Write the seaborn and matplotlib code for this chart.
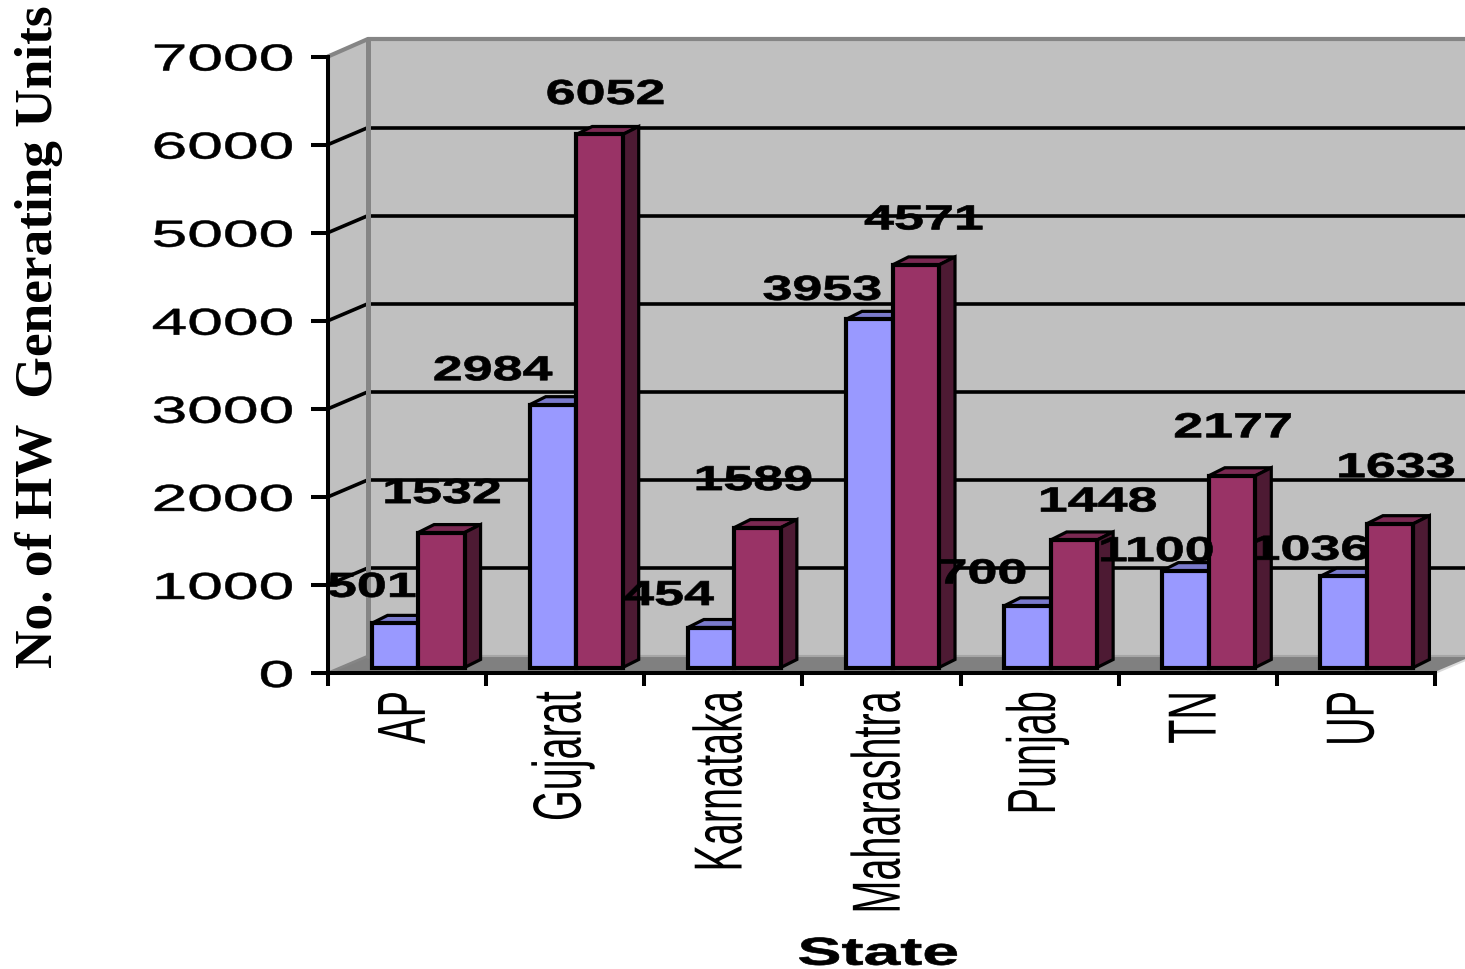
import matplotlib
matplotlib.use("Agg")
import matplotlib.pyplot as plt
import pandas as pd
import seaborn as sns
from matplotlib.lines import Line2D
from matplotlib.patches import Polygon
from matplotlib.patheffects import AbstractPathEffect
from matplotlib.transforms import Affine2D, IdentityTransform

states = ["AP", "Gujarat", "Karnataka", "Maharashtra", "Punjab", "TN", "UP"]
first_series = [501, 2984, 454, 3953, 700, 1100, 1036]
second_series = [1532, 6052, 1589, 4571, 1448, 2177, 1633]
y_ticks = [0, 1000, 2000, 3000, 4000, 5000, 6000, 7000]

# Hand placement of the value labels relative to the top centre of each bar
first_label_shift = [(-23, 36), (-60, 34), (-42, 32), (-47, 29), (-45, 32), (-29, 19), (-33, 26)]
second_label_shift = [(1, 39), (6, 40), (-4, 47), (8, 45), (24, 38), (1, 48), (6, 56)]

W, H = 1465, 970
BLUE, PURPLE = "#9999FF", "#993366"
BLUE_TOP, PURPLE_TOP, PURPLE_SIDE = "#7A7ACC", "#7A2952", "#4D1A33"
WALL, FLOOR, EDGE = "#C0C0C0", "#808080", "#858585"
WALL_DEPTH = (40, 17)
BAR_SHIFT = (11, 5.5)
BAR_DEPTH = (16, 8)


class Stretch(AbstractPathEffect):
    """Scale a text outline on screen around one side of its bounding box."""

    def __init__(self, sx=1.0, sy=1.0, anchor_x="center", anchor_y="center", dx=0, dy=0, heavy=0.0):
        super().__init__()
        self.sx, self.sy = sx, sy
        self.anchor_x, self.anchor_y = anchor_x, anchor_y
        self.dx, self.dy = dx, dy
        self.heavy = heavy

    def draw_path(self, renderer, gc, tpath, affine, rgbFace=None):
        box = tpath.transformed(affine).get_extents()
        cx = {"left": box.x0, "center": (box.x0 + box.x1) / 2, "right": box.x1}[self.anchor_x]
        cy = {"bottom": box.y0, "center": (box.y0 + box.y1) / 2, "top": box.y1}[self.anchor_y]
        stretched = affine + (Affine2D().translate(-cx, -cy)
                              .scale(self.sx, self.sy)
                              .translate(cx + self.dx, cy + self.dy))
        if self.heavy:
            gc.set_foreground("black")
            gc.set_linewidth(self.heavy)
        renderer.draw_path(gc, tpath, stretched, rgbFace)


sns.set_style("white")
plt.rcParams["font.family"] = ["Liberation Sans", "DejaVu Sans"]
plt.rcParams["text.color"] = "black"
plt.rcParams["axes.labelcolor"] = "black"
plt.rcParams["xtick.color"] = "black"
plt.rcParams["ytick.color"] = "black"

fig = plt.figure(figsize=(W / 100, H / 100), dpi=100, facecolor="white")
ax = fig.add_axes([328 / W, 1 - 674 / H, (1435 - 328) / W, (674 - 57.5) / H])
ax.patch.set_visible(False)

table = pd.DataFrame({
    "State": states * 2,
    "Units": first_series + second_series,
    "Series": ["first"] * len(states) + ["second"] * len(states),
})
sns.barplot(data=table, x="State", y="Units", hue="Series", order=states,
            palette=[BLUE, PURPLE], saturation=1, width=0.588, gap=0, dodge=True,
            edgecolor="black", linewidth=3.0, legend=False, ax=ax)
ax.set_xlim(-0.5, 6.5)
ax.set_ylim(0, 7000)
ax.set_yticks(y_ticks)
fig.canvas.draw()

screen = IdentityTransform()
to_screen = ax.transData.transform


def shape(points, zorder, **style):
    fig.add_artist(Polygon(points, closed=True, transform=screen, zorder=zorder, **style))


def stroke(xs, ys, zorder, **style):
    fig.add_artist(Line2D(xs, ys, transform=screen, zorder=zorder, **style))


# Chart box behind the bars: side wall, back wall, floor
x0, y0 = to_screen((-0.5, 0))
x1, y1 = to_screen((6.5, 7000))
ddx, ddy = WALL_DEPTH
shape([(x0, y0), (x0, y1), (x0 + ddx, y1 + ddy), (x0 + ddx, y0 + ddy)], -5, facecolor=WALL, edgecolor="none")
shape([(x0 + ddx, y0 + ddy), (x0 + ddx, y1 + ddy), (x1 + ddx, y1 + ddy), (x1 + ddx, y0 + ddy)], -5,
      facecolor=WALL, edgecolor="none")
shape([(x0, y0), (x1, y0), (x1 + ddx, y0 + ddy), (x0 + ddx, y0 + ddy)], -4, facecolor=FLOOR, edgecolor="none")

for value in y_ticks[1:-1]:
    _, y = to_screen((0, value))
    stroke([x0, x0 + ddx], [y, y + ddy], -3, color="black", lw=2.6)
    stroke([x0 + ddx, x1 + ddx], [y + ddy, y + ddy], -3, color="black", lw=2.6)

stroke([x0 + ddx, x1 + ddx], [y0 + ddy, y0 + ddy], -3, color="#A6A6A6", lw=1.5)
stroke([x0, x0 + ddx], [y0, y0 + ddy], -3, color=EDGE, lw=2.0)
stroke([x1, x1 + ddx], [y0, y0 + ddy], -3, color="#D8D8D8", lw=1.5)
stroke([x0, x0 + ddx, x1 + ddx], [y1, y1 + ddy + 0.5, y1 + ddy + 0.5], -2, color=EDGE, lw=3.0)
stroke([x0 + ddx, x0 + ddx], [y0 + ddy, y1 + ddy + 0.5], -2, color=EDGE, lw=3.6)

# Bars: shift the fronts into the box and extrude top and side faces
bar_transform = ax.transData + Affine2D().translate(*BAR_SHIFT)
top_colors = [BLUE_TOP, PURPLE_TOP]
side_colors = [BLUE_TOP, PURPLE_SIDE]
shifts = [first_label_shift, second_label_shift]
ddx, ddy = BAR_DEPTH
for container, top_c, side_c, label_shift, values in zip(
        ax.containers, top_colors, side_colors, shifts, [first_series, second_series]):
    for bar, (lx, ly), value in zip(container, label_shift, values):
        bar.set_transform(bar_transform)
        bar.set_clip_on(False)
        bar.set_joinstyle("miter")
        bar.set_zorder(1.2)
        left, base = bar_transform.transform((bar.get_x(), 0))
        right, top = bar_transform.transform((bar.get_x() + bar.get_width(), bar.get_height()))
        face = dict(edgecolor="black", linewidth=2.3, joinstyle="miter", clip_on=False)
        ax.add_patch(Polygon([(left, top), (right, top), (right + ddx, top + ddy), (left + ddx, top + ddy)],
                             transform=screen, facecolor=top_c, zorder=1.1, **face))
        ax.add_patch(Polygon([(right, base), (right, top), (right + ddx, top + ddy), (right + ddx, base + ddy)],
                             transform=screen, facecolor=side_c, zorder=1.1, **face))
        text = ax.annotate(str(value), xy=((left + right) / 2 + lx, top + ly), xycoords=screen,
                           ha="center", va="center", fontsize=25, fontweight="bold",
                           color="black", zorder=5, annotation_clip=False)
        text.set_path_effects([Stretch(sx=1.55, heavy=0.5)])

# Axes, ticks and titles
sns.despine(ax=ax, top=True, right=True)
for side in ("left", "bottom"):
    ax.spines[side].set_linewidth(2.9)
    ax.spines[side].set_color("black")
ax.tick_params(axis="y", direction="out", length=12, width=2.9, color="black", pad=13, left=True)
ax.set_xticks([i - 0.5 for i in range(len(states) + 1)], minor=True)
ax.tick_params(axis="x", which="major", length=0, pad=13)
ax.tick_params(axis="x", which="minor", direction="out", length=9, width=2.9, color="black", bottom=True)

for label in ax.get_yticklabels():
    label.set_fontsize(27)
    label.set_path_effects([Stretch(sx=1.71, anchor_x="right", heavy=0.4)])
for label in ax.get_xticklabels():
    label.set_fontsize(28.5)
    label.set_rotation(90)
    label.set_va("top")
    label.set_ha("center")
    label.set_path_effects([Stretch(sx=1.72, dx=-3)])

ax.set_xlabel("State", fontsize=28, fontweight="bold")
ax.xaxis.set_label_coords(0.497, -0.457)
ax.xaxis.label.set_va("center")
ax.xaxis.label.set_path_effects([Stretch(sx=1.7, heavy=0.5)])
ax.set_ylabel("No. of HW  Generating Units", fontsize=38.4, fontweight="bold",
              family=["Liberation Serif", "DejaVu Serif"])
ax.yaxis.set_label_coords(-0.2607, 0.547)
ax.yaxis.label.set_va("center")
ax.yaxis.label.set_ha("center")

fig.savefig("out.png", dpi=100)
